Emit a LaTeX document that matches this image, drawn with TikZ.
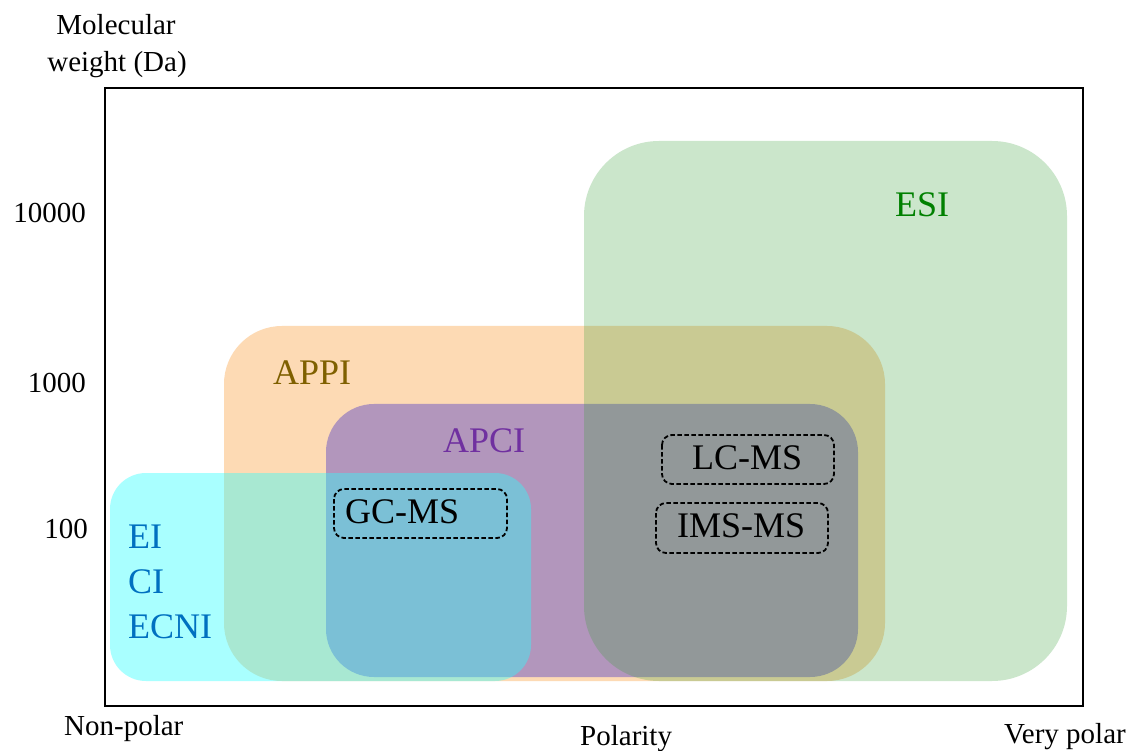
\documentclass[tikz,border=0pt]{standalone}
\usepackage{fontspec}
\setmainfont{Liberation Serif}
\definecolor{appifill}{RGB}{253,218,180}
\definecolor{apcifill}{RGB}{178,150,188}
\definecolor{esifill}{RGB}{55,160,55}
\definecolor{eifill}{RGB}{42,255,255}
\definecolor{esitext}{RGB}{0,128,0}
\definecolor{appitext}{RGB}{127,96,0}
\definecolor{apcitext}{RGB}{112,48,160}
\definecolor{eitext}{RGB}{0,112,192}
\tikzset{
  axlabel/.style={font=\fontsize{29}{36}\selectfont, inner sep=0pt},
  biglabel/.style={font=\fontsize{36}{44}\selectfont, inner sep=0pt},
  techbox/.style={draw=black, dashed, dash pattern=on 4.5pt off 2.5pt, line width=1.8pt, rounded corners=10pt},
  region/.style={draw=none},
}
\begin{document}
\begin{tikzpicture}[x=1pt,y=-1pt]
\useasboundingbox (0,0) rectangle (1136,751);
\fill[white] (0,0) rectangle (1136,751);
% regions
\fill[region, appifill, rounded corners=58pt] (224,326) rectangle (885,681);
\fill[region, apcifill, rounded corners=48pt] (326,404) rectangle (858,677);
\fill[region, esifill, fill opacity=0.26, rounded corners=75pt] (584,141) rectangle (1067,681);
\fill[region, eifill, fill opacity=0.4, rounded corners=36pt] (110,473) rectangle (531,681);
% frame
\draw[line width=2.2pt] (105,88) rectangle (1083,706);
% axis labels
\node[axlabel, anchor=base] (ylab1) at (116,35) {Molecular};
\node[axlabel, anchor=base] (ylab2) at (117,72) {weight (Da)};
\node[axlabel, anchor=base east] (t10000) at (86,223) {10000};
\node[axlabel, anchor=base east] (t1000) at (86,393) {1000};
\node[axlabel, anchor=base east] (t100) at (88,538) {100};
\node[axlabel, anchor=base west] (nonpolar) at (64,735) {Non-polar};
\node[axlabel, anchor=base west] (polarity) at (580,745) {Polarity};
\node[axlabel, anchor=base west] (verypolar) at (1004,743) {Very polar};
% region labels
\node[biglabel, text=esitext, anchor=base west] (esi) at (895,217) {ESI};
\node[biglabel, text=appitext, anchor=base west] (appi) at (273,385) {APPI};
\node[biglabel, text=apcitext, anchor=base west] (apci) at (443,453) {APCI};
\node[biglabel, text=eitext, anchor=base west] (ei) at (128,548) {EI};
\node[biglabel, text=eitext, anchor=base west] (ci) at (128,593) {CI};
\node[biglabel, text=eitext, anchor=base west] (ecni) at (128,638) {ECNI};
% technique boxes
\draw[techbox] (334,489) rectangle (507,538);
\node[biglabel, anchor=base west] (gcms) at (345,523) {GC-MS};
\draw[techbox] (662,435) rectangle (834,484);
\node[biglabel, anchor=base west] (lcms) at (692,469) {LC-MS};
\draw[techbox] (656,503) rectangle (828,553);
\node[biglabel, anchor=base west] (imsms) at (677,537) {IMS-MS};
\end{tikzpicture}
\end{document}
